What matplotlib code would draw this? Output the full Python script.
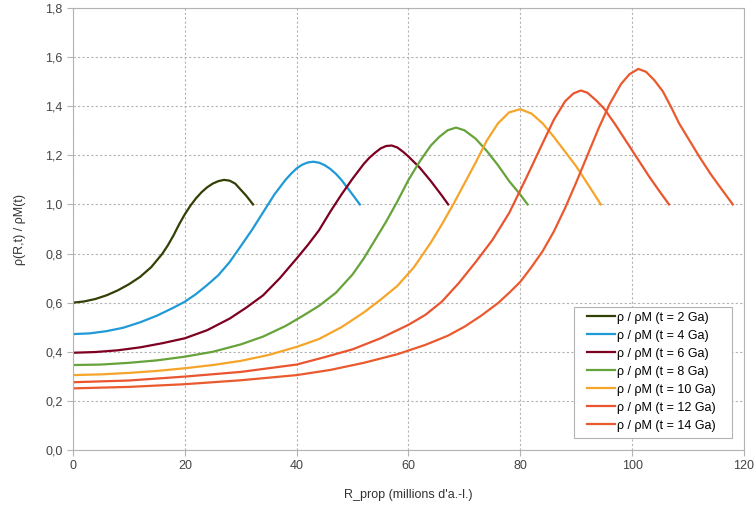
import matplotlib.pyplot as plt
from matplotlib.patches import Rectangle
from matplotlib.ticker import FuncFormatter

plt.rcParams['font.family'] = ['Liberation Sans', 'DejaVu Sans']

# data (R_prop in millions of light-years, rho/rhoM)
x_2 = [0, 2, 4, 6, 8, 10, 12, 14, 16, 17, 18, 19, 20, 21, 22, 23, 24, 25, 26, 27, 28, 29, 30, 31, 32.2]
y_2 = [0.600, 0.605, 0.615, 0.630, 0.650, 0.675, 0.705, 0.745, 0.800, 0.835, 0.875, 0.920, 0.960,
       0.995, 1.025, 1.050, 1.070, 1.085, 1.095, 1.100, 1.097, 1.085, 1.060, 1.035, 1.000]

x_4 = [0, 3, 6, 9, 12, 15, 18, 20, 22, 24, 26, 28, 30, 32, 34, 36, 38, 39, 40, 41, 42, 43, 44, 45,
       46, 47, 48, 49, 50, 51.3]
y_4 = [0.472, 0.475, 0.484, 0.498, 0.520, 0.547, 0.580, 0.604, 0.635, 0.672, 0.712, 0.765, 0.830,
       0.896, 0.968, 1.040, 1.100, 1.125, 1.147, 1.162, 1.171, 1.174, 1.170, 1.160, 1.145, 1.125,
       1.100, 1.070, 1.040, 1.000]

x_6 = [0, 4, 8, 12, 16, 20, 24, 28, 31, 34, 37, 40, 42, 44, 46, 48, 50, 52, 53, 54, 55, 56, 57, 58,
       59, 60, 62, 64, 66, 67.1]
y_6 = [0.396, 0.399, 0.406, 0.418, 0.435, 0.455, 0.488, 0.535, 0.580, 0.630, 0.700, 0.780, 0.835,
       0.895, 0.970, 1.040, 1.105, 1.165, 1.190, 1.210, 1.228, 1.238, 1.240, 1.232, 1.215, 1.195,
       1.150, 1.095, 1.035, 1.000]

x_8 = [0, 5, 10, 15, 20, 25, 30, 34, 38, 41, 44, 47, 50, 52, 54, 56, 58, 60, 62, 64, 65.5, 67, 68.5,
       70, 72, 74, 76, 78, 80, 81.3]
y_8 = [0.346, 0.348, 0.355, 0.365, 0.380, 0.400, 0.430, 0.462, 0.505, 0.545, 0.587, 0.640, 0.715,
       0.780, 0.855, 0.930, 1.012, 1.100, 1.175, 1.240, 1.275, 1.302, 1.313, 1.302, 1.268, 1.218,
       1.160, 1.095, 1.040, 1.000]

x_10 = [0, 5, 10, 15, 20, 25, 30, 35, 40, 44, 48, 52, 55, 58, 61, 64, 66, 68, 70, 72, 74, 76, 78,
        80, 82, 84, 86, 88, 90, 92, 94.4]
y_10 = [0.305, 0.308, 0.314, 0.322, 0.333, 0.346, 0.363, 0.387, 0.420, 0.452, 0.500, 0.560, 0.612,
        0.668, 0.745, 0.845, 0.920, 1.000, 1.085, 1.170, 1.260, 1.330, 1.375, 1.388, 1.370, 1.330,
        1.275, 1.215, 1.155, 1.085, 1.000]

x_12 = [0, 10, 20, 30, 40, 45, 50, 55, 60, 63, 66, 69, 72, 75, 78, 81, 84, 86, 88, 89.5, 90.8, 92,
        93.5, 95, 97, 99, 101, 103, 105, 106.6]
y_12 = [0.276, 0.283, 0.299, 0.318, 0.348, 0.378, 0.410, 0.455, 0.510, 0.550, 0.605, 0.680, 0.765,
        0.855, 0.965, 1.105, 1.250, 1.345, 1.420, 1.452, 1.464, 1.455, 1.425, 1.390, 1.325, 1.255,
        1.185, 1.115, 1.050, 1.000]

x_14 = [0, 10, 20, 30, 40, 46, 52, 58, 63, 67, 70, 73, 76, 78, 80, 82, 84, 86, 88, 90, 92, 94, 96,
        98, 99.5, 101.1, 102.5, 104, 105.5, 107, 108.4, 110, 112, 114, 116, 118]
y_14 = [0.251, 0.257, 0.268, 0.284, 0.305, 0.326, 0.355, 0.390, 0.428, 0.465, 0.502, 0.547, 0.598,
        0.640, 0.685, 0.745, 0.810, 0.890, 0.985, 1.090, 1.200, 1.310, 1.410, 1.490, 1.530, 1.552,
        1.540, 1.505, 1.460, 1.395, 1.330, 1.270, 1.195, 1.125, 1.062, 1.000]

labels = ["ρ / ρM (t = 2 Ga)", "ρ / ρM (t = 4 Ga)", "ρ / ρM (t = 6 Ga)", "ρ / ρM (t = 8 Ga)",
          "ρ / ρM (t = 10 Ga)", "ρ / ρM (t = 12 Ga)", "ρ / ρM (t = 14 Ga)"]
colors = ['#314004', '#1f9ad6', '#7e0021', '#66a33a', '#f5a52a', '#e9552f', '#ea5a2e']

series = [(x_2, y_2), (x_4, y_4), (x_6, y_6), (x_8, y_8), (x_10, y_10), (x_12, y_12), (x_14, y_14)]

fig = plt.figure(figsize=(7.55, 5.13), dpi=100)
ax = fig.add_axes([0.0967, 0.1228, 0.8887, 0.8616])

for (xs, ys), lab, c in zip(series, labels, colors):
    ax.plot(xs, ys, color=c, lw=1.6, label=lab, solid_joinstyle='round')

ax.set_xlim(0, 120)
ax.set_ylim(0, 1.8)
ax.set_xticks(range(0, 121, 20))
ax.set_yticks([i * 0.2 for i in range(10)])
ax.yaxis.set_major_formatter(FuncFormatter(lambda v, p: f"{v:.1f}".replace('.', ',')))

ax.grid(True, color='#b3b3b3', linestyle=(0, (2, 2)), linewidth=0.8)
for s in ax.spines.values():
    s.set_color('#b3b3b3')
ax.tick_params(colors='#b3b3b3', labelcolor='#444444', labelsize=9, length=4)

ax.set_xlabel("R_prop (millions d'a.-l.)", fontsize=9, color='#333333', labelpad=12)
ax.set_ylabel("ρ(R,t) / ρM(t)", fontsize=9, color='#333333', labelpad=14)

# legend box drawn separately so the side padding can be wider than the top/bottom
ax.add_patch(Rectangle((0.747, 0.027), 0.235, 0.296, transform=ax.transAxes,
                       facecolor='white', edgecolor='#b3b3b3', lw=0.8, zorder=4))
ax.legend(loc='upper left', bbox_to_anchor=(0.766, 0.313), fontsize=9, frameon=False,
          handlelength=2.24, handletextpad=0.2, labelspacing=0.48,
          borderaxespad=0.0, borderpad=0.0)

fig.savefig('out.png', dpi=100)
